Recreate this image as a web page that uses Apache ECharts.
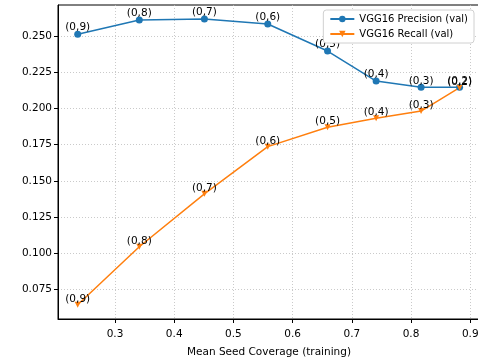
<!DOCTYPE html>
<html>
<head>
<meta charset="utf-8">
<script src="https://cdn.jsdelivr.net/npm/echarts@6/dist/echarts.min.js"></script>
<style>
  html, body { margin: 0; padding: 0; background: #fff; }
  #chart { width: 478px; height: 360px; }
</style>
</head>
<body>
<div id="chart"></div>
<script>
// threshold labels for each point
const thresholds = ['0,9', '0,8', '0,7', '0,6', '0,5', '0,4', '0,3', '0,2']
// mean seed coverage (x)
const coverage = [0.237, 0.341, 0.451, 0.558, 0.659, 0.741, 0.817, 0.882]
const precision = [0.2512, 0.2610, 0.2617, 0.2583, 0.2396, 0.2189, 0.2146, 0.2146]
const recall = [0.0644, 0.1045, 0.1410, 0.1736, 0.1870, 0.1932, 0.1982, 0.2143]

const xTicks = [0.3, 0.4, 0.5, 0.6, 0.7, 0.8, 0.9]
const yTicks = [0.075, 0.1, 0.125, 0.15, 0.175, 0.2, 0.225, 0.25]

const font = 'DejaVu Sans'
const chart = echarts.init(document.getElementById('chart'))

const pairs = (ys) => coverage.map((x, i) => [x, ys[i], thresholds[i]])

const labelOpt = (offsetY) => ({
  show: true,
  position: 'top',
  distance: 0,
  offset: [0, offsetY],
  color: '#000',
  fontFamily: font,
  fontSize: 10.5,
  formatter: p => '(' + p.data[2] + ')'
})

const option = {
  animation: false,
  textStyle: { fontFamily: font },
  grid: {
    left: 58, right: -2, top: 5, bottom: 41,
    outerBoundsMode: 'none',
    show: true, borderColor: '#000', borderWidth: 1
  },
  legend: {
    right: 4, top: 10,
    orient: 'vertical',
    backgroundColor: '#fff',
    borderColor: '#d0d0d0',
    borderWidth: 1,
    borderRadius: 3,
    padding: [3, 6, 3, 6],
    itemGap: 3,
    itemWidth: 24,
    itemHeight: 8,
    textStyle: { fontFamily: font, fontSize: 10, color: '#000', lineHeight: 12 },
    data: ['VGG16 Precision (val)', 'VGG16 Recall (val)']
  },
  xAxis: {
    type: 'value',
    min: 0.2037,
    max: 0.9165,
    name: 'Mean Seed Coverage (training)',
    nameLocation: 'middle',
    nameGap: 28,
    nameTextStyle: { fontFamily: font, fontSize: 10.5, color: '#000' },
    axisLine: { lineStyle: { color: '#000', width: 1 } },
    axisTick: { inside: false, length: 4, lineStyle: { color: '#000' }, customValues: xTicks },
    axisLabel: { customValues: xTicks, margin: 10, color: '#000', fontSize: 10.5, fontFamily: font,
      formatter: v => v.toFixed(1) },
    splitLine: { show: true, lineStyle: { color: '#bdbdbd', type: [1, 2], width: 0.8 } }
  },
  yAxis: {
    type: 'value',
    min: 0.0546,
    max: 0.2714,
    axisLine: { show: true, lineStyle: { color: '#000', width: 1 } },
    axisTick: { show: true, inside: false, length: 4, lineStyle: { color: '#000' }, customValues: yTicks },
    axisLabel: { customValues: yTicks, margin: 6, color: '#000', fontSize: 10.5, fontFamily: font,
      formatter: v => v.toFixed(3) },
    splitLine: { show: true, lineStyle: { color: '#bdbdbd', type: [1, 2], width: 0.8 } }
  },
  series: [
    {
      name: 'VGG16 Precision (val)',
      type: 'line',
      data: pairs(precision),
      color: '#1f77b4',
      symbol: 'circle',
      symbolSize: 7,
      lineStyle: { width: 1.5 },
      label: labelOpt(2.5)
    },
    {
      name: 'VGG16 Recall (val)',
      type: 'line',
      data: pairs(recall),
      color: '#ff7f0e',
      symbol: 'triangle',
      symbolRotate: 180,
      symbolSize: 6,
      lineStyle: { width: 1.5 },
      label: labelOpt(3)
    }
  ]
}
chart.setOption(option)
</script>
</body>
</html>
